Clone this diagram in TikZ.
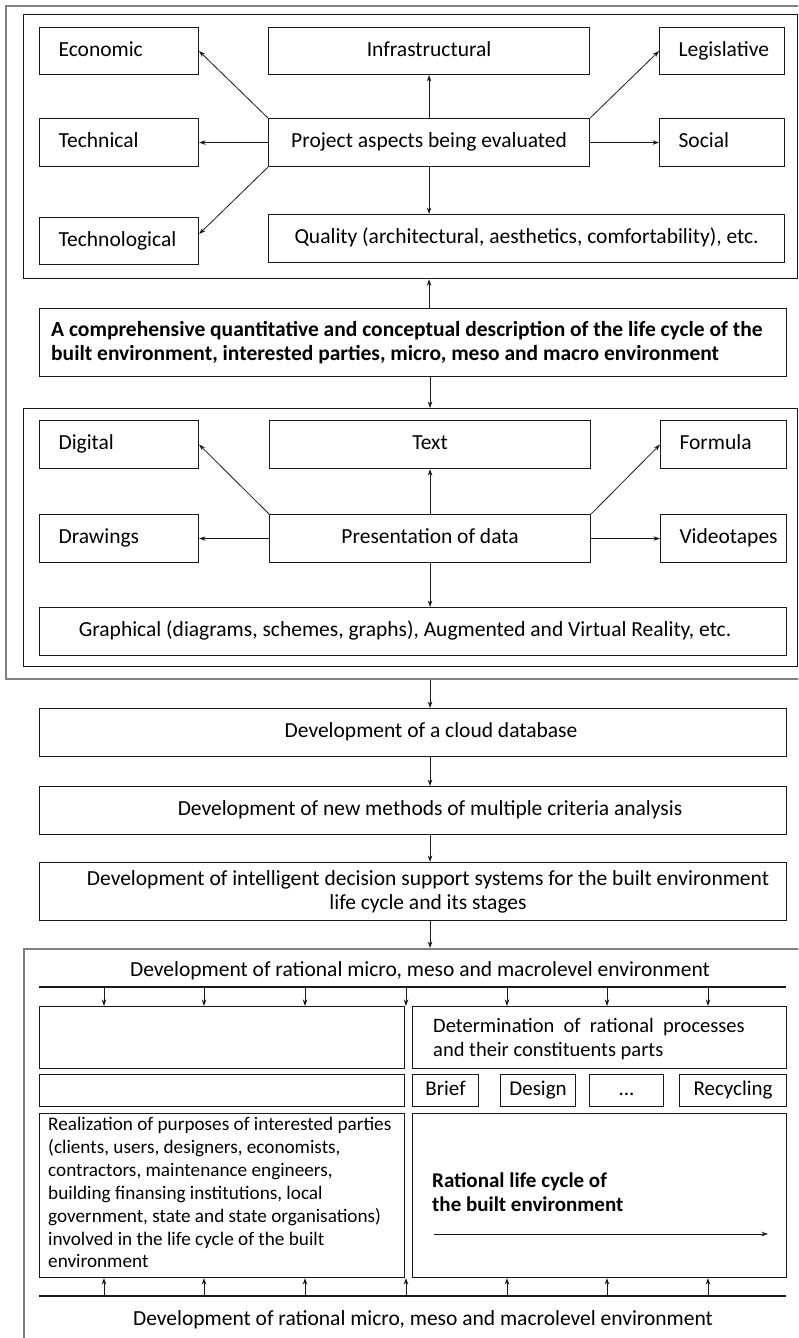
\documentclass[tikz,border=0pt]{standalone}
\usepackage{fontspec}
\setmainfont{Carlito}
\usetikzlibrary{arrows.meta}
\definecolor{ink}{HTML}{1A1A1A}
\definecolor{framegray}{HTML}{808080}
\newcommand\mainsz{\fontsize{21.5}{24}\selectfont}
\hyphenpenalty=10000
\exhyphenpenalty=10000
\begin{document}
\begin{tikzpicture}[x=1pt,y=-1pt,
  bx/.style 2 args={draw=ink, line width=1.1pt, anchor=north west, inner sep=0pt,
    minimum width=#1, minimum height=#2, font=\mainsz},
  one/.style={text height=15pt, text depth=5pt},
  lpad/.style={text width=#1, align=left},
  frame/.style={draw=ink, line width=1.3pt, anchor=north west, inner sep=0pt},
  gframe/.style={draw=framegray, line width=2pt, anchor=north west, inner sep=0pt},
  arr/.style={draw=ink, line width=0.8pt, -{Stealth[length=6.5pt,width=4.5pt]}},
  rule/.style={draw=ink, line width=1.1pt},
  lbl/.style={font=\mainsz, inner sep=0pt, align=center},
  para/.style={anchor=north west, inner sep=0pt, align=left}
]
\useasboundingbox (0,0) rectangle (798,1338);
\clip (0,0) rectangle (798,1338);
\fill[white] (0,0) rectangle (798,1338);

% ---------- outer frame around the first two groups ----------
\node[gframe, minimum width=800, minimum height=673] (outer) at (5,5) {};

% ---------- project aspects ----------
\node[frame, minimum width=774, minimum height=264] (f1) at (23,14) {};
\node[bx={159}{47}, one, lpad=121] (econ) at (39,27) {Economic};
\node[bx={321}{47}, one] (infra) at (268,27) {Infrastructural};
\node[bx={125}{47}, one, lpad=87] (legis) at (659,27) {Legislative};
\node[bx={159}{48}, one, lpad=121] (techn) at (39,118) {Technical};
\node[bx={321}{48}, one] (proj) at (268,118) {Project aspects being evaluated};
\node[bx={125}{48}, one, lpad=87] (social) at (659,118) {Social};
\node[bx={159}{47}, one, lpad=121] (techlog) at (39,217) {Technological};
\node[bx={516}{48}, one] (qual) at (268,214) {Quality (architectural, aesthetics, comfortability), etc.};

\draw[arr] (proj.north west) -- (econ.east);
\draw[arr] (proj.west) -- (techn.east);
\draw[arr] (proj.south west) -- ([yshift=7pt]techlog.east);
\draw[arr] (proj.north) -- (infra.south);
\draw[arr] (proj.north east) -- (legis.west);
\draw[arr] (proj.east) -- (social.west);
\draw[arr] (proj.south) -- (proj.south |- qual.north);

% ---------- description ----------
\node[bx={747}{68}] (desc) at (39,308) {};
\node[para, font=\fontsize{21.5}{24}\selectfont\bfseries] (desc-t) at (51,321)
  {A comprehensive quantitative and conceptual description of the life cycle of the\\
   built environment, interested parties, micro, meso and macro environment};
\draw[arr] (proj.south |- desc.north) -- (proj.south |- f1.south);

% ---------- presentation of data ----------
\node[frame, minimum width=774, minimum height=258] (f2) at (23,408) {};
\node[bx={159}{48}, one, lpad=121] (digital) at (39,420) {Digital};
\node[bx={321}{48}, one] (textb) at (269,420) {Text};
\node[bx={126}{48}, one, lpad=88] (formula) at (660,420) {Formula};
\node[bx={159}{48}, one, lpad=121] (drawings) at (39,514) {Drawings};
\node[bx={321}{48}, one] (pres) at (269,514) {Presentation of data};
\node[bx={126}{48}, one, lpad=88] (video) at (660,514) {Videotapes};
\node[bx={747}{48}] (graph) at (39,607) {};
\node[lbl, one] (graph-t) at (405,631) {Graphical (diagrams, schemes, graphs), Augmented and Virtual Reality, etc.};

\draw[arr] (desc.south -| pres.north) -- (pres.north |- f2.north);
\draw[arr] (pres.north west) -- (digital.east);
\draw[arr] (pres.north) -- (textb.south);
\draw[arr] (pres.north east) -- (formula.west);
\draw[arr] (pres.west) -- (drawings.east);
\draw[arr] (pres.east) -- (video.west);
\draw[arr] (pres.south) -- (pres.south |- graph.north);

% ---------- development chain ----------
\node[bx={747}{48}] (cloud) at (39,708) {};
\node[lbl, one] (cloud-t) at (431,732) {Development of a cloud database};
\node[bx={747}{48}] (methods) at (39,786) {};
\node[lbl, one] (methods-t) at (430,810) {Development of new methods of multiple criteria analysis};
\node[bx={747}{58}] (intel) at (39,862) {};
\node[lbl] (intel-t) at (428,892) {Development of intelligent decision support systems for the built environment\\life cycle and its stages};

\draw[arr] (pres.south |- outer.south) -- (pres.south |- cloud.north);
\draw[arr] (pres.south |- cloud.south) -- (pres.south |- methods.north);
\draw[arr] (pres.south |- methods.south) -- (pres.south |- intel.north);

% ---------- rational environment ----------
\node[gframe, minimum width=776, minimum height=400] (f3) at (23,948) {};
\draw[arr] (pres.south |- intel.south) -- (pres.south |- f3.north);

\node[lbl, one] (top-t) at (420,971) {Development of rational micro, meso and macrolevel environment};
\coordinate (tl1) at (39,987);
\coordinate (tl2) at (786,987);
\draw[rule] (tl1) -- (tl2);

\node[bx={365}{62}] (blankA) at (39,1006) {};
\node[bx={374}{62}] (det) at (412,1006) {};
\node[para, font=\fontsize{20.5}{24}\selectfont] (det-t) at (433,1018)
  {Determination\ \ of\ \ rational\ \ processes\\ and their constituents parts};
\node[bx={365}{32}] (blankB) at (39,1074) {};
\node[bx={66}{32}, one, font=\fontsize{21}{24}\selectfont] (brief) at (412,1074) {Brief};
\node[bx={75}{32}, one, font=\fontsize{21}{24}\selectfont] (design) at (500,1074) {Design};
\node[bx={74}{32}, one, font=\fontsize{21}{24}\selectfont] (dots) at (589,1074) {...};
\node[bx={107}{32}, one, font=\fontsize{21}{24}\selectfont] (recyc) at (679,1074) {Recycling};

\node[bx={365}{164}] (realiz) at (39,1113) {};
\node[para, font=\fontsize{19.2}{22.9}\selectfont] (realiz-t) at (48,1117)
  {Realization of purposes of interested parties\\
   (clients, users, designers, economists,\\
   contractors, maintenance engineers,\\
   building finansing institutions, local\\
   government, state and state organisations)\\
   involved in the life cycle of the built\\
   environment};
\node[bx={374}{164}] (lcbox) at (412,1113) {};
\node[para, font=\fontsize{21}{23.5}\selectfont\bfseries] (lc-t) at (432,1173)
  {Rational life cycle of\\the built environment};
\coordinate (lc1) at (434,1234);
\coordinate (lc2) at (768,1234);
\draw[arr] (lc1) -- (lc2);

\coordinate (bl1) at (39,1296);
\coordinate (bl2) at (786,1296);
\draw[rule] (bl1) -- (bl2);
\node[lbl, one] (bot-t) at (423,1320) {Development of rational micro, meso and macrolevel environment};

\foreach \x [count=\i] in {104,204,305,406,507,607,708} {
  \coordinate (dn\i) at (\x,987);
  \draw[arr] (dn\i) -- (dn\i |- blankA.north);
  \coordinate (up\i) at (\x,1296);
  \draw[arr] (up\i) -- (up\i |- realiz.south);
}
\end{tikzpicture}
\end{document}
